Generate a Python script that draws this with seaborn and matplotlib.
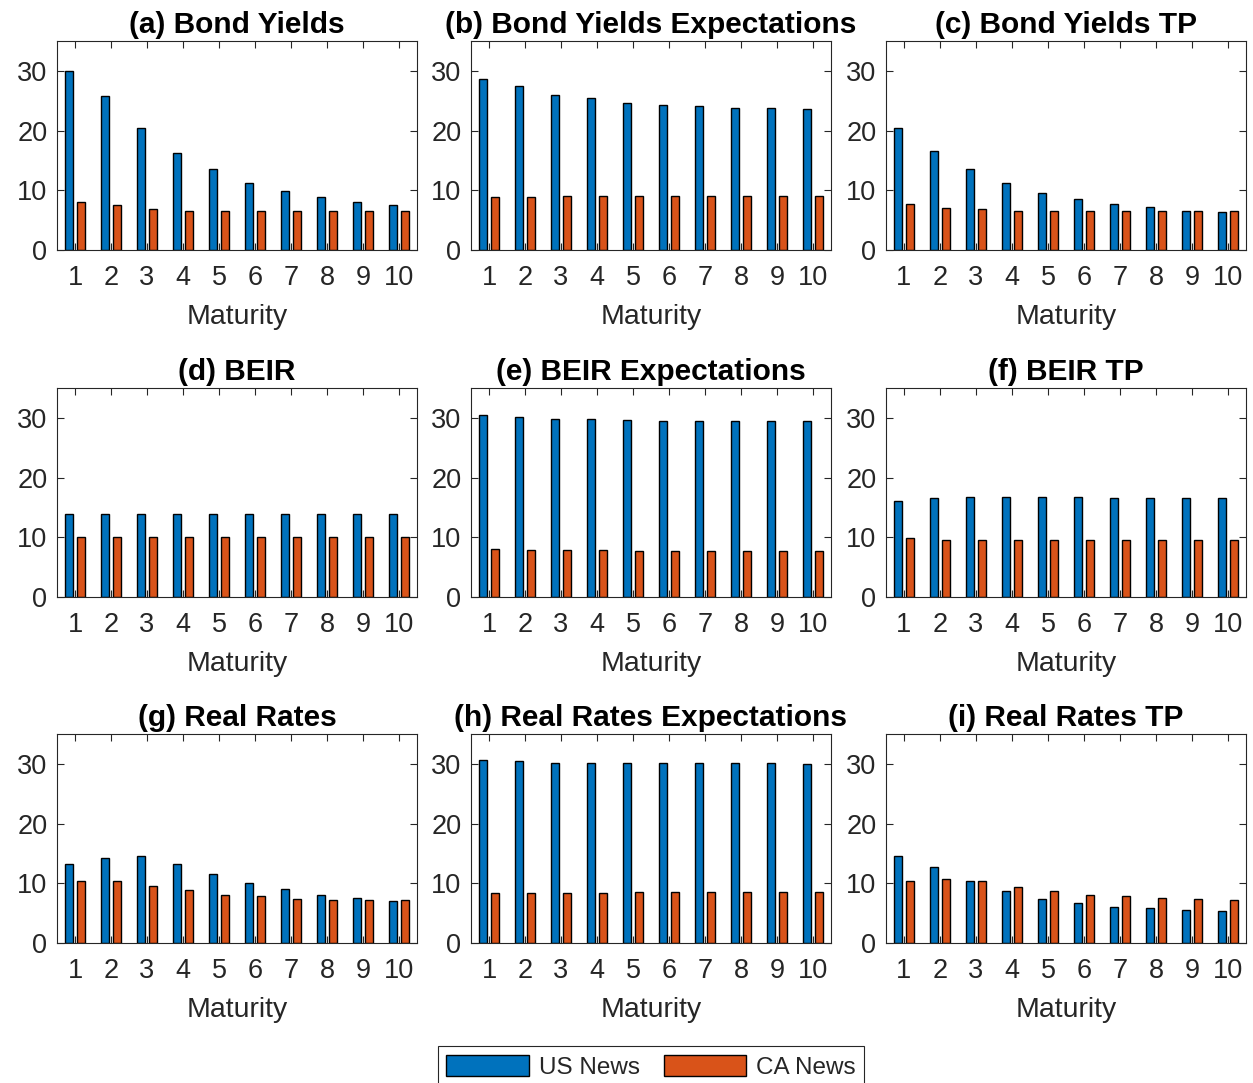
import numpy as np
import pandas as pd
import matplotlib
matplotlib.use("Agg")
import matplotlib.pyplot as plt
import seaborn as sns

maturities = ["1", "2", "3", "4", "5", "6", "7", "8", "9", "10"]
series_names = ["US News", "CA News"]

a_us = [30.0, 25.8, 20.5, 16.3, 13.5, 11.2, 9.9, 8.8, 8.1, 7.5]
a_ca = [8.1, 7.5, 6.8, 6.6, 6.6, 6.6, 6.6, 6.6, 6.6, 6.6]
b_us = [28.7, 27.4, 26.0, 25.4, 24.7, 24.3, 24.1, 23.8, 23.8, 23.6]
b_ca = [8.8, 8.8, 9.0, 9.0, 9.0, 9.0, 9.0, 9.0, 9.0, 9.0]
c_us = [20.5, 16.5, 13.5, 11.2, 9.6, 8.6, 7.7, 7.2, 6.6, 6.3]
c_ca = [7.7, 7.0, 6.8, 6.6, 6.6, 6.6, 6.6, 6.6, 6.6, 6.6]
d_us = [13.9, 13.9, 13.9, 13.9, 13.9, 13.9, 13.9, 13.9, 13.9, 13.9]
d_ca = [10.1, 10.1, 10.1, 10.1, 10.1, 10.1, 10.1, 10.1, 10.1, 10.1]
e_us = [30.5, 30.2, 29.8, 29.8, 29.6, 29.4, 29.4, 29.4, 29.4, 29.4]
e_ca = [8.1, 7.9, 7.9, 7.9, 7.7, 7.7, 7.7, 7.7, 7.7, 7.7]
f_us = [16.1, 16.5, 16.7, 16.7, 16.7, 16.7, 16.5, 16.5, 16.5, 16.5]
f_ca = [9.9, 9.6, 9.6, 9.6, 9.6, 9.6, 9.6, 9.6, 9.6, 9.6]
g_us = [13.2, 14.3, 14.5, 13.2, 11.6, 10.0, 9.0, 8.1, 7.6, 7.0]
g_ca = [10.3, 10.3, 9.6, 8.8, 8.1, 7.8, 7.4, 7.2, 7.2, 7.2]
h_us = [30.6, 30.4, 30.2, 30.2, 30.2, 30.2, 30.2, 30.2, 30.2, 29.9]
h_ca = [8.3, 8.3, 8.3, 8.3, 8.5, 8.5, 8.5, 8.5, 8.5, 8.5]
i_us = [14.6, 12.8, 10.4, 8.7, 7.4, 6.7, 6.0, 5.8, 5.6, 5.4]
i_ca = [10.3, 10.7, 10.3, 9.4, 8.7, 8.1, 7.8, 7.6, 7.4, 7.2]

titles = ["(a) Bond Yields", "(b) Bond Yields Expectations", "(c) Bond Yields TP",
          "(d) BEIR", "(e) BEIR Expectations", "(f) BEIR TP",
          "(g) Real Rates", "(h) Real Rates Expectations", "(i) Real Rates TP"]
panels = [(a_us, a_ca), (b_us, b_ca), (c_us, c_ca),
          (d_us, d_ca), (e_us, e_ca), (f_us, f_ca),
          (g_us, g_ca), (h_us, h_ca), (i_us, i_ca)]

sns.set_theme(style="white")
plt.rcParams["font.family"] = ["Liberation Sans", "DejaVu Sans"]

palette = {"US News": "#0072BD", "CA News": "#D95319"}
dark = "#262626"

W, H = 1253, 1083
fig = plt.figure(figsize=(W / 100, H / 100), dpi=100)

col_left = [57, 471, 886]
row_top = [41, 388, 734]
ax_w, ax_h = 360, 209

handles, labels = None, None
for k, (title, (us, ca)) in enumerate(zip(titles, panels)):
    r, c = divmod(k, 3)
    ax = fig.add_axes([col_left[c] / W, 1 - (row_top[r] + ax_h) / H, ax_w / W, ax_h / H])
    df = pd.DataFrame({
        "Maturity": maturities * 2,
        "value": list(us) + list(ca),
        "Series": [series_names[0]] * 10 + [series_names[1]] * 10,
    })
    sns.barplot(data=df, x="Maturity", y="value", hue="Series", order=maturities,
                hue_order=series_names, palette=palette, saturation=1,
                width=0.62, gap=0.29,
                edgecolor="black", linewidth=1.0, ax=ax, legend=(k == 0))
    if k == 0:
        handles, labels = ax.get_legend_handles_labels()
        ax.get_legend().remove()
    ax.set_ylim(0, 35)
    ax.set_xlim(-0.5, 9.5)
    ax.set_yticks([0, 10, 20, 30])
    ax.set_title(title, fontsize=21.5, fontweight="bold", color="black", pad=6)
    ax.set_xlabel("Maturity", fontsize=20.5, color=dark, labelpad=9)
    ax.set_ylabel("")
    ax.tick_params(axis="both", direction="in", length=5, width=0.8, colors=dark,
                   labelsize=19.5, top=True, right=True, bottom=True, left=True)
    ax.tick_params(axis="x", pad=11)
    ax.tick_params(axis="y", pad=7)
    for sp in ax.spines.values():
        sp.set_visible(True)
        sp.set_color(dark)
        sp.set_linewidth(0.8)

leg = fig.legend(handles, labels, loc="upper center",
                 bbox_to_anchor=(651 / W, 1 - 1046 / H), ncol=2, fontsize=17.5,
                 frameon=True, fancybox=False, edgecolor=dark, framealpha=1,
                 handlelength=3.4, handleheight=1.0, columnspacing=1.0,
                 handletextpad=0.4, borderpad=0.35, borderaxespad=0)
leg.get_frame().set_linewidth(0.8)

fig.savefig("out.png", dpi=100, facecolor="white")
